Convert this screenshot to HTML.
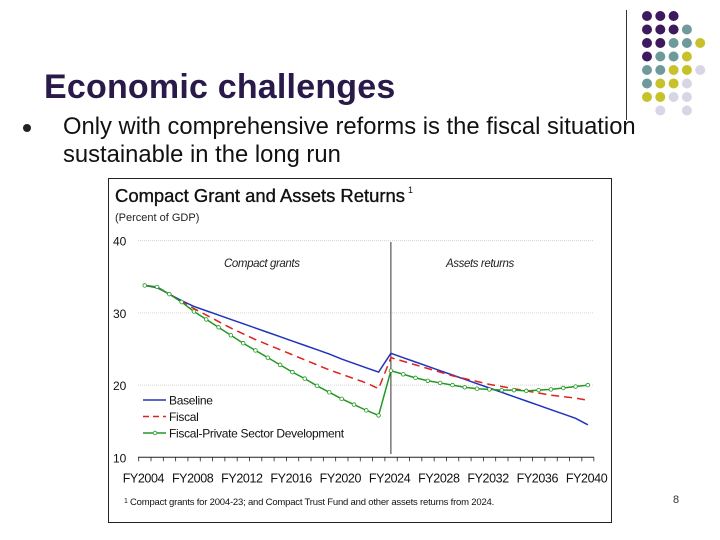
<!DOCTYPE html>
<html><head><meta charset="utf-8"><style>
body{margin:0;width:720px;height:540px;background:#fff;position:relative;overflow:hidden;font-family:"Liberation Sans",sans-serif}
.abs{position:absolute}
</style></head><body>
<div class="abs" style="left:626px;top:10px;width:1px;height:110px;background:#333"></div>
<svg class="abs" style="left:0;top:0" width="720" height="130" id="dots"></svg>
<div class="abs" style="left:44px;top:68px;font-size:34px;font-weight:bold;color:#2a1a4a;letter-spacing:0.2px">Economic challenges</div>
<div class="abs" style="left:23px;top:124px;width:8px;height:8px;border-radius:50%;background:#222"></div>
<div class="abs" style="left:63px;top:113px;font-size:23.8px;line-height:28px;color:#111;width:590px">Only with comprehensive reforms is the fiscal situation sustainable in the long run</div>
<div class="abs" style="left:108px;top:178px;width:502px;height:343px;border:1.5px solid #222"></div>
<svg class="abs" style="left:0;top:0" width="720" height="540" id="chart"></svg>
<div class="abs" style="left:673px;top:494px;font-size:11px;color:#333">8</div>
<script>
const years=[];for(let y=2004;y<=2040;y++)years.push(y);
const yTicks=[10,20,30,40];
const xTickLabels=['FY2004','FY2008','FY2012','FY2016','FY2020','FY2024','FY2028','FY2032','FY2036','FY2040'];
const baseline=[33.8,33.5,32.6,31.7,30.9,30.3,29.7,29.1,28.5,27.9,27.3,26.7,26.1,25.5,24.9,24.3,23.6,23.0,22.4,21.8,24.4,23.8,23.2,22.6,22.0,21.4,20.8,20.2,19.6,19.0,18.4,17.8,17.2,16.6,16.0,15.4,14.5];
const fiscal=[33.8,33.6,32.6,31.6,30.6,29.7,28.8,27.9,27.1,26.3,25.6,24.9,24.2,23.5,22.8,22.1,21.5,20.9,20.3,19.5,23.8,23.3,22.8,22.3,21.8,21.3,20.9,20.5,20.1,19.8,19.5,19.2,18.9,18.6,18.4,18.2,17.9];
const fpsd=[33.8,33.6,32.6,31.5,30.2,29.1,28.0,26.9,25.8,24.8,23.8,22.8,21.8,20.9,19.9,19.0,18.1,17.3,16.5,15.8,22.0,21.5,21.0,20.6,20.3,20.0,19.7,19.5,19.4,19.3,19.3,19.2,19.3,19.4,19.6,19.8,20.0];
const NS='http://www.w3.org/2000/svg';
const svg=document.getElementById('chart');
const X=y=>144.7+(y-2004)*12.31;
const Y=v=>457.3-(v-10)*7.22;
function mk(t,a,p){const e=document.createElementNS(NS,t);for(const k in a)e.setAttribute(k,a[k]);(p||svg).appendChild(e);return e;}
function tx(x,y,s,o){const e=mk('text',Object.assign({x:x,y:y,'font-family':'Liberation Sans, sans-serif'},o));e.textContent=s;return e;}
let e;
e=tx(115,202,'Compact Grant and Assets Returns',{'font-size':18,fill:'#111',stroke:'#111','stroke-width':0.35,textLength:290,lengthAdjust:'spacingAndGlyphs'});


e=tx(408,193,'1',{'font-size':9,fill:'#111'});
e=tx(115,221,'(Percent of GDP)',{'font-size':11,fill:'#222'});


yTicks.forEach(v=>{
 if(v>10){e=mk('line',{x1:138,x2:594,y1:Y(v),y2:Y(v),stroke:'#ccc','stroke-width':0.8,'stroke-dasharray':'1,1'});
 
 }
 e=tx(113,Y(v)+5,String(v),{'font-size':12,fill:'#111'});
 
 
});
e=mk('line',{x1:138,x2:594,y1:Y(10),y2:Y(10),stroke:'#222','stroke-width':1});


years.forEach(y=>{mk('line',{x1:X(y)-6,x2:X(y)-6,y1:Y(10),y2:Y(10)+4,stroke:'#222','stroke-width':0.8});});
mk('line',{x1:X(2040)+6,x2:X(2040)+6,y1:Y(10),y2:Y(10)+4,stroke:'#222','stroke-width':0.8});
xTickLabels.forEach((l,i)=>{e=tx(X(2004+i*4)-22,Y(10)+25,l,{'font-size':12.5,fill:'#111','letter-spacing':'-0.4'});
 
 });
e=mk('line',{x1:X(2024),x2:X(2024),y1:242,y2:454,stroke:'#333','stroke-width':1});


e=tx(224,267,'Compact grants',{'font-size':11.5,'font-style':'italic',fill:'#222','letter-spacing':'-0.4'});


e=tx(446,267,'Assets returns',{'font-size':11.5,'font-style':'italic',fill:'#222','letter-spacing':'-0.4'});


function line(arr,st,dash,name){
 const pts=arr.map((v,i)=>X(years[i])+','+Y(v)).join(' ');
 e=mk('polyline',{points:pts,fill:'none',stroke:st,'stroke-width':1.5,'stroke-dasharray':dash||'none'});
 
 
}
line(baseline,'#2233bb',null,'baseline-line');
line(fiscal,'#dd2222','8,5','fiscal-line');
line(fpsd,'#229922',null,'fpsd-line');
fpsd.forEach((v,i)=>{e=mk('circle',{cx:X(years[i]),cy:Y(v),r:1.8,fill:'#fff',stroke:'#229922','stroke-width':0.8});
 
 });
const leg=[['Baseline','#2233bb',null],['Fiscal','#dd2222','6,4'],['Fiscal-Private Sector Development','#229922',null]];
leg.forEach((l,i)=>{const y=400+i*16.5;
 mk('line',{x1:143,x2:166,y1:y,y2:y,stroke:l[1],'stroke-width':1.5,'stroke-dasharray':l[2]||'none'});
 if(i==2)mk('circle',{cx:155,cy:y,r:1.8,fill:'#fff',stroke:l[1],'stroke-width':0.8});
 e=tx(169,y+4.5,l[0],{'font-size':12,fill:'#111','letter-spacing':'-0.3'});
 
 });
e=tx(124,503,'1',{'font-size':7,fill:'#111'});
e=tx(130,505,'Compact grants for 2004-23; and Compact Trust Fund and other assets returns from 2024.',{'font-size':9.5,fill:'#111','letter-spacing':'-0.2'});


const C={P:'#3d1a5e',T:'#6f9a9c',Y:'#c8c22a',L:'#d6d6e6'};
const rows=['PPP','PPPT','PPTTY','PTTY','TTYYL','TYYL','YYLL','_L_L'];
const dsv=document.getElementById('dots');
rows.forEach((r,ri)=>[...r].forEach((c,ci)=>{if(c!=='_'){const d=mk('circle',{cx:647+ci*13.3,cy:16+ri*13.5,r:5,fill:C[c]},dsv);
 
 }}));
</script>
</body></html>
